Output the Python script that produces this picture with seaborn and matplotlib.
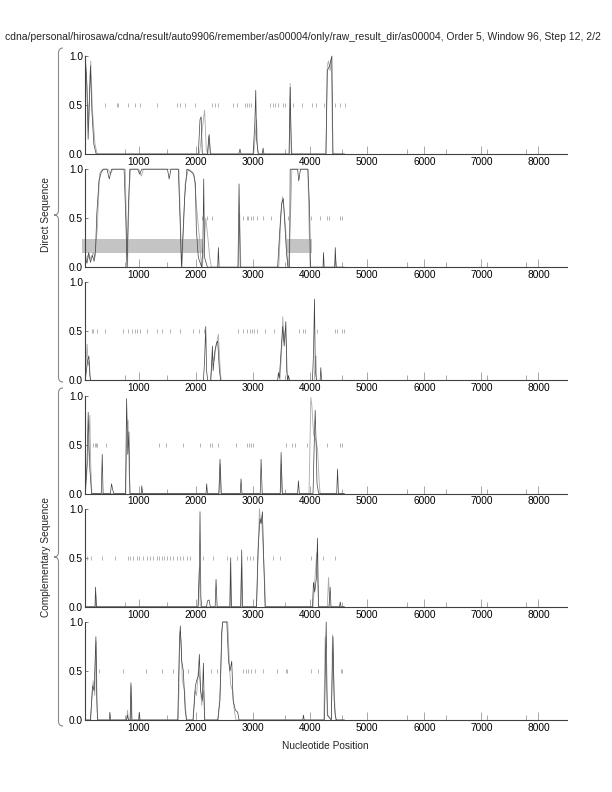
import numpy as np
import pandas as pd
import seaborn as sns
import matplotlib
matplotlib.use('Agg')
import matplotlib.pyplot as plt
from matplotlib.path import Path
from matplotlib.patches import PathPatch, Rectangle

# === data (position, score) ===
TITLE = ('cdna/personal/hirosawa/cdna/result/auto9906/remember/as00004/only/'
         'raw_result_dir/as00004, Order 5, Window 96, Step 12, 2/2')

p1_dark = [(60, 1.0), (85, 0.75), (110, 0.15), (150, 0.9), (175, 0.45), (210, 0.1), (250, 0.0),
           (2040, 0.0), (2070, 0.35), (2090, 0.38), (2110, 0.0), (2200, 0.0), (2230, 0.2), (2250, 0.0),
           (2750, 0.0), (2770, 0.05), (2790, 0.0), (3000, 0.0), (3030, 0.3), (3047, 0.65), (3060, 0.15),
           (3090, 0.0), (3160, 0.0), (3175, 0.06), (3190, 0.0), (3630, 0.0), (3650, 0.68), (3670, 0.0),
           (4275, 0.0), (4300, 0.85), (4340, 0.9), (4380, 1.0), (4400, 0.0), (4600, 0.0)]
p1_gray = [(60, 0.95), (90, 0.7), (120, 0.3), (155, 0.95), (185, 0.45), (230, 0.1), (270, 0.0),
           (2060, 0.0), (2100, 0.2), (2150, 0.45), (2180, 0.05), (2210, 0.0), (2220, 0.18), (2240, 0.12),
           (2260, 0.0), (3010, 0.0), (3040, 0.2), (3060, 0.35), (3080, 0.05), (3100, 0.0), (3635, 0.0),
           (3650, 0.72), (3660, 0.3), (3680, 0.0), (4280, 0.0), (4300, 0.9), (4320, 0.95), (4350, 0.85),
           (4370, 0.97), (4395, 0.0), (4600, 0.0)]
p1_marks = [404, 608, 637, 813, 930, 1018, 1310, 1661, 1719, 1807, 1982, 2275, 2333, 2392, 2655,
            2725, 2860, 2900, 2935, 2960, 3298, 3345, 3386, 3444, 3520, 3561, 3708, 3854, 4040,
            4100, 4234, 4439, 4526, 4614]

p2_dark = [(60, 0.10), (90, 0.04), (120, 0.15), (150, 0.05), (185, 0.12), (215, 0.06), (240, 0.18),
           (262, 0.55), (300, 0.88), (340, 0.97), (380, 1.0), (440, 1.0), (480, 0.9), (520, 1.0),
           (740, 1.0), (770, 0.5), (790, 0.0), (815, 0.6), (840, 1.0), (980, 1.0), (1010, 0.95),
           (1050, 1.0), (1500, 1.0), (1530, 0.9), (1560, 1.0), (1690, 1.0), (1720, 0.5), (1745, 0.0),
           (1800, 0.7), (1840, 1.0), (1900, 0.98), (1960, 0.95), (1990, 0.85), (2005, 0.4), (2040, 0.1),
           (2100, 0.0), (2120, 0.2), (2135, 0.9), (2150, 0.1), (2200, 0.0), (2380, 0.0), (2392, 0.2),
           (2405, 0.0), (2735, 0.0), (2754, 0.85), (2775, 0.0), (3430, 0.0), (3470, 0.4), (3500, 0.65),
           (3530, 0.7), (3555, 0.45), (3585, 0.15), (3610, 0.0), (3640, 0.0), (3650, 1.0), (3780, 1.0),
           (3800, 0.88), (3830, 1.0), (3960, 1.0), (3990, 0.6), (4005, 0.0), (4225, 0.0), (4234, 0.15),
           (4245, 0.0), (4430, 0.0), (4440, 0.2), (4455, 0.0), (4600, 0.0)]
p2_gray = [(60, 0.05), (100, 0.12), (140, 0.08), (200, 0.15), (230, 0.1), (270, 0.4), (310, 0.95),
           (360, 1.0), (460, 1.0), (500, 0.95), (540, 1.0), (760, 1.0), (785, 0.3), (800, 0.0),
           (830, 0.8), (854, 1.0), (1000, 1.0), (1040, 0.93), (1080, 1.0), (1700, 1.0), (1735, 0.3),
           (1755, 0.0), (1810, 0.85), (1865, 1.0), (1940, 0.97), (1975, 0.9), (2012, 0.6), (2060, 0.3),
           (2090, 0.05), (2110, 0.0), (2150, 0.3), (2170, 0.5), (2200, 0.35), (2240, 0.1), (2270, 0.0),
           (2740, 0.0), (2765, 0.55), (2785, 0.0), (3450, 0.0), (3490, 0.55), (3515, 0.72), (3540, 0.6),
           (3570, 0.4), (3600, 0.1), (3620, 0.0), (3660, 0.6), (3679, 1.0), (3960, 1.0), (3985, 0.3),
           (4000, 0.0), (4430, 0.0), (4445, 0.08), (4460, 0.0), (4600, 0.0)]
p2_marks = [2100, 2199, 2275, 2830, 2889, 2918, 2959, 3006, 3064, 3181, 3310, 3620, 4012, 4175,
            4293, 4322, 4526, 4556]
p2_boxes = [(0, 2117), (3602, 4029)]
box_low, box_high = 0.143, 0.289

p3_dark = [(60, 0.0), (80, 0.1), (100, 0.2), (123, 0.25), (140, 0.05), (155, 0.0), (2130, 0.0),
           (2150, 0.2), (2170, 0.55), (2185, 0.1), (2205, 0.0), (2260, 0.0), (2287, 0.35), (2300, 0.1),
           (2330, 0.3), (2360, 0.38), (2380, 0.4), (2410, 0.1), (2433, 0.0), (3430, 0.0), (3444, 0.08),
           (3460, 0.02), (3490, 0.3), (3520, 0.55), (3545, 0.35), (3574, 0.6), (3590, 0.1), (3605, 0.0),
           (3620, 0.05), (3640, 0.0), (4040, 0.0), (4060, 0.3), (4076, 0.83), (4090, 0.1), (4110, 0.0),
           (4175, 0.0), (4187, 0.13), (4200, 0.0), (4600, 0.0)]
p3_gray = [(60, 0.0), (75, 0.2), (93, 0.37), (110, 0.15), (130, 0.2), (150, 0.0), (2250, 0.0),
           (2290, 0.25), (2320, 0.2), (2350, 0.35), (2392, 0.47), (2420, 0.15), (2440, 0.0), (3470, 0.0),
           (3500, 0.3), (3520, 0.65), (3540, 0.4), (3560, 0.5), (3580, 0.4), (3600, 0.05), (3630, 0.0),
           (4070, 0.0), (4090, 0.2), (4100, 0.25), (4115, 0.0), (4600, 0.0)]
p3_marks = [170, 199, 257, 404, 725, 813, 871, 930, 971, 1018, 1135, 1310, 1398, 1544, 1719, 1953,
            2058, 2140, 2743, 2830, 2889, 2947, 2977, 3018, 3064, 3211, 3368, 3807, 3883, 3912, 4117,
            4439, 4468, 4556, 4585]

p4_dark = [(60, 0.0), (90, 0.3), (111, 0.83), (125, 0.5), (140, 0.25), (170, 0.0), (340, 0.0),
           (357, 0.4), (372, 0.0), (500, 0.0), (520, 0.1), (540, 0.04), (560, 0.0), (765, 0.0),
           (784, 0.97), (805, 0.4), (825, 0.63), (842, 0.0), (1040, 0.0), (1050, 0.08), (1065, 0.0),
           (2175, 0.0), (2187, 0.1), (2200, 0.0), (2400, 0.0), (2421, 0.35), (2440, 0.0), (2775, 0.0),
           (2789, 0.15), (2805, 0.0), (3125, 0.0), (3140, 0.35), (3160, 0.0), (3475, 0.0), (3491, 0.42),
           (3510, 0.0), (3780, 0.0), (3795, 0.13), (3810, 0.0), (4050, 0.0), (4075, 0.6), (4088, 0.85),
           (4105, 0.5), (4120, 0.1), (4150, 0.0), (4465, 0.0), (4480, 0.25), (4495, 0.0), (4600, 0.0)]
p4_gray = [(60, 0.0), (110, 0.4), (140, 0.8), (155, 0.3), (175, 0.0), (770, 0.0), (790, 0.7),
           (810, 0.75), (830, 0.2), (845, 0.0), (2405, 0.0), (2425, 0.3), (2445, 0.0), (3480, 0.0),
           (3495, 0.3), (3515, 0.0), (3980, 0.0), (4012, 0.98), (4030, 0.9), (4060, 0.6), (4100, 0.55),
           (4130, 0.45), (4160, 0.1), (4175, 0.0), (4600, 0.0)]
p4_marks = [199, 222, 246, 269, 421, 1357, 1474, 1778, 2070, 2246, 2287, 2392, 2696, 2889, 2924,
            2959, 3006, 3579, 3679, 3737, 3953, 4293, 4526, 4556]

p5_dark = [(60, 0.0), (230, 0.0), (240, 0.2), (255, 0.0), (2035, 0.0), (2060, 0.4), (2070, 0.97),
           (2085, 0.1), (2100, 0.0), (2185, 0.0), (2200, 0.06), (2230, 0.07), (2250, 0.0), (2335, 0.0),
           (2351, 0.28), (2370, 0.0), (2595, 0.0), (2608, 0.5), (2620, 0.0), (2785, 0.0), (2801, 0.58),
           (2815, 0.0), (3060, 0.0), (3090, 0.6), (3120, 0.9), (3140, 0.85), (3164, 0.97), (3185, 0.5),
           (3210, 0.0), (4040, 0.0), (4058, 0.25), (4080, 0.15), (4110, 0.3), (4129, 0.7), (4145, 0.0),
           (4330, 0.0), (4350, 0.2), (4365, 0.0), (4515, 0.0), (4526, 0.05), (4540, 0.0), (4600, 0.0)]
p5_gray = [(60, 0.0), (235, 0.0), (245, 0.12), (255, 0.0), (2040, 0.0), (2058, 0.4), (2075, 0.0),
           (2590, 0.0), (2603, 0.45), (2615, 0.0), (2780, 0.0), (2795, 0.4), (2810, 0.0), (3060, 0.0),
           (3085, 0.55), (3111, 1.0), (3135, 0.85), (3150, 0.9), (3185, 0.5), (3222, 0.0), (4050, 0.0),
           (4080, 0.25), (4115, 0.55), (4130, 0.3), (4150, 0.0), (4300, 0.0), (4322, 0.3), (4345, 0.0),
           (4600, 0.0)]
p5_marks = [94, 152, 345, 579, 801, 842, 901, 959, 1006, 1064, 1135, 1193, 1252, 1310, 1357, 1398,
            1439, 1485, 1544, 1602, 1661, 1719, 1778, 1836, 1895, 2129, 2304, 2538, 2714, 2889, 2947,
            3006, 3064, 3357, 3474, 4012, 4222, 4427]

p6_dark = [(60, 0.0), (150, 0.0), (190, 0.35), (215, 0.3), (246, 0.85), (262, 0.2), (275, 0.0),
           (480, 0.0), (491, 0.08), (505, 0.0), (780, 0.0), (800, 0.05), (815, 0.0), (845, 0.0),
           (860, 0.38), (875, 0.0), (995, 0.0), (1006, 0.08), (1020, 0.0), (1680, 0.0), (1710, 0.8),
           (1725, 0.96), (1750, 0.6), (1778, 0.5), (1810, 0.1), (1836, 0.0), (1950, 0.0), (1990, 0.35),
           (2010, 0.4), (2040, 0.45), (2058, 0.67), (2080, 0.3), (2110, 0.2), (2129, 0.58), (2150, 0.0),
           (2380, 0.0), (2420, 0.2), (2450, 0.9), (2470, 1.0), (2540, 1.0), (2570, 0.6), (2596, 0.5),
           (2626, 0.6), (2650, 0.2), (2690, 0.1), (2730, 0.08), (2754, 0.0), (3870, 0.0), (3883, 0.05),
           (3895, 0.0), (4250, 0.0), (4281, 1.0), (4300, 0.05), (4370, 0.0), (4400, 0.85), (4420, 0.2),
           (4439, 0.05), (4460, 0.0), (4600, 0.0)]
p6_gray = [(60, 0.0), (155, 0.0), (180, 0.3), (199, 0.4), (225, 0.25), (250, 0.8), (268, 0.1),
           (280, 0.0), (785, 0.0), (800, 0.1), (815, 0.0), (850, 0.0), (865, 0.35), (880, 0.0),
           (1690, 0.0), (1720, 0.9), (1740, 0.8), (1760, 0.4), (1800, 0.3), (1830, 0.0), (1945, 0.0),
           (1982, 0.3), (2010, 0.25), (2040, 0.5), (2070, 0.4), (2100, 0.15), (2130, 0.3), (2155, 0.0),
           (2390, 0.0), (2430, 0.4), (2462, 1.0), (2556, 1.0), (2590, 0.5), (2610, 0.35), (2640, 0.3),
           (2670, 0.1), (2700, 0.0), (4240, 0.0), (4263, 0.85), (4290, 0.3), (4310, 0.05), (4370, 0.0),
           (4392, 0.87), (4420, 0.3), (4445, 0.0), (4600, 0.0)]
p6_marks = [304, 725, 1123, 1409, 1591, 1865, 2258, 2374, 2830, 2877, 2918, 2959, 3035, 3181, 3427,
            3579, 3602, 4012, 4146, 4538, 4556]

x_major = [1000, 2000, 3000, 4000, 5000, 6000, 7000, 8000]
x_minor = [750, 1490, 3560, 4560, 5700, 6380, 7100, 7790]
y_ticks = [0.0, 0.5, 1.0]
y_ticklabels = ['0.0', '0.5', '1.0']

panels = [
    (p1_dark, p1_gray, p1_marks, []),
    (p2_dark, p2_gray, p2_marks, p2_boxes),
    (p3_dark, p3_gray, p3_marks, []),
    (p4_dark, p4_gray, p4_marks, []),
    (p5_dark, p5_gray, p5_marks, []),
    (p6_dark, p6_gray, p6_marks, []),
]

DARK = '#404040'
LIGHT = '#ababab'

sns.set_theme(style='ticks')
plt.rcParams['font.family'] = ['Liberation Sans', 'DejaVu Sans']
plt.rcParams['font.size'] = 7

W, H = 612, 792
fig = plt.figure(figsize=(W / 100, H / 100), dpi=100)
fig.patch.set_facecolor('white')


def fx(px):
    return px / W


def fy(py):
    return 1 - py / H


def to_df(pairs):
    return pd.DataFrame(pairs, columns=['pos', 'score'])


for i, (dark, gray, marks, boxes) in enumerate(panels):
    top = 56 + 113.2 * i
    ax = fig.add_axes([fx(85), fy(top + 98), fx(567) - fx(85), 98 / H])
    ax.set_facecolor('white')

    for x0, x1 in boxes:
        ax.add_patch(Rectangle((x0, box_low), x1 - x0, box_high - box_low,
                               facecolor='#c4c4c4', edgecolor='none', zorder=0.5, clip_on=False))

    ax.vlines(marks, 0.48, 0.52, color='#a0a0a0', lw=0.55, zorder=1)
    sns.lineplot(data=to_df(gray), x='pos', y='score', ax=ax, color=LIGHT, lw=0.6,
                 estimator=None, sort=False, legend=False, clip_on=False, zorder=2)
    sns.lineplot(data=to_df(dark), x='pos', y='score', ax=ax, color=DARK, lw=0.5,
                 estimator=None, sort=False, legend=False, clip_on=False, zorder=3)

    ax.set_xlim(55, 8500)
    ax.set_ylim(0, 1)
    ax.set_xlabel('')
    ax.set_ylabel('')
    ax.set_xticks(x_major)
    ax.set_xticklabels([str(v) for v in x_major])
    ax.set_xticks(x_minor, minor=True)
    ax.set_yticks(y_ticks)
    ax.set_yticklabels(y_ticklabels)
    for side in ['top', 'right']:
        ax.spines[side].set_visible(False)
    for side in ['left', 'bottom']:
        ax.spines[side].set_color('#404040')
        ax.spines[side].set_linewidth(0.8)
    ax.tick_params(axis='x', which='major', direction='in', length=6, width=0.6,
                   color='#999999', labelsize=7.3, pad=2, labelcolor='black')
    ax.tick_params(axis='x', which='minor', direction='in', length=3.5, width=0.6,
                   color='#999999')
    ax.tick_params(axis='y', which='major', direction='in', length=2.5, width=0.6,
                   color='#666666', labelsize=7.3, pad=1.5, labelcolor='black')


# curly braces grouping the panels
def brace(top, bottom, x_end=63, x_mid=58.5, x_tip=54):
    mid = (top + bottom) / 2
    pts = [(x_end, top), (x_mid, top), (x_mid, top + 5),
           (x_mid, mid - 5), (x_mid, mid), (x_tip, mid),
           (x_mid, mid), (x_mid, mid + 5),
           (x_mid, bottom - 5), (x_mid, bottom), (x_end, bottom)]
    codes = [Path.MOVETO, Path.CURVE3, Path.CURVE3,
             Path.LINETO, Path.CURVE3, Path.CURVE3,
             Path.CURVE3, Path.CURVE3,
             Path.LINETO, Path.CURVE3, Path.CURVE3]
    verts = [(fx(a), fy(b)) for a, b in pts]
    fig.add_artist(PathPatch(Path(verts, codes), transform=fig.transFigure,
                             facecolor='none', edgecolor='#8a8a8a', lw=0.8))
    return mid


m1 = brace(48, 382)
m2 = brace(388, 726)
fig.text(fx(46), fy(m1), 'Direct Sequence', rotation=90, ha='center', va='center', fontsize=7.3)
fig.text(fx(46), fy(m2), 'Complementary Sequence', rotation=90, ha='center', va='center', fontsize=7.3)

fig.text(fx(601), fy(37), TITLE, ha='right', va='center', fontsize=7.45)
fig.text(fx(325), fy(746), 'Nucleotide Position', ha='center', va='center', fontsize=7.3)

fig.savefig('out.png', dpi=100, facecolor='white')
